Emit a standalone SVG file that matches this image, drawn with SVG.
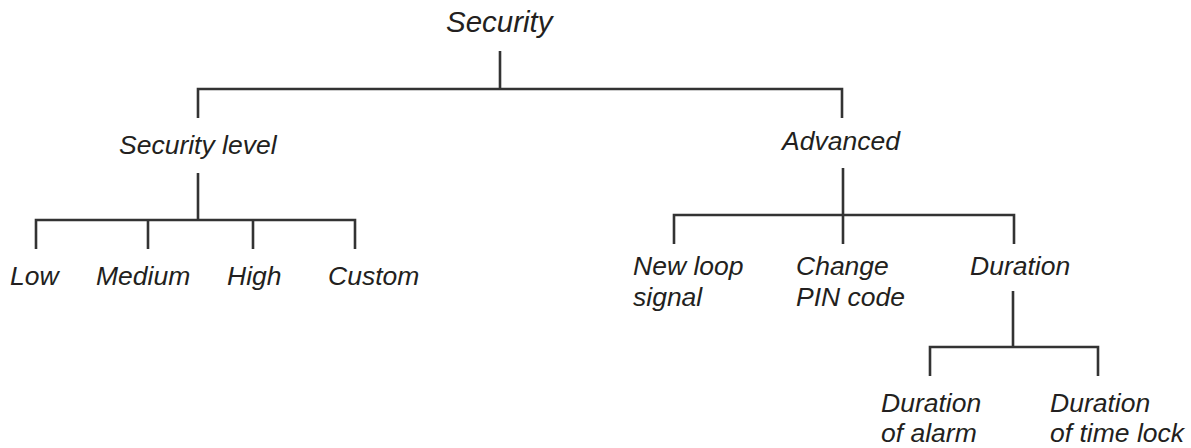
<svg xmlns="http://www.w3.org/2000/svg" width="1191" height="448" viewBox="0 0 1191 448">
<style>
text{font-family:"Liberation Sans",Arial,sans-serif;font-style:italic;font-size:26.5px;fill:#231f20}
.t{font-size:29.5px}
.c{fill:none;stroke:#333;stroke-width:2.6}
</style>
<rect width="1191" height="448" fill="#fff"/>
<g id="connectors">
<path class="c" d="M500 51V89M198 118V89H842V118"/>
<path class="c" d="M198 173V220M36 249V220H355V249M148 220V249M253 220V249"/>
<path class="c" d="M843 168V244M674 244V215H1014V244"/>
<path class="c" d="M1013 291V347M930 376V347H1098V376"/>
</g>
<g id="n-security"><text class="t" x="446" y="32">Security</text></g>
<g id="n-level"><text x="119" y="154">Security level</text></g>
<g id="n-advanced"><text x="782" y="150">Advanced</text></g>
<g id="n-low"><text x="10" y="285">Low</text></g>
<g id="n-medium"><text x="96" y="285">Medium</text></g>
<g id="n-high"><text x="227" y="285">High</text></g>
<g id="n-custom"><text x="328" y="285">Custom</text></g>
<g id="n-newloop"><text x="633" y="275">New loop</text><text x="633" y="306">signal</text></g>
<g id="n-pin"><text x="796" y="275">Change</text><text x="796" y="306">PIN code</text></g>
<g id="n-duration"><text x="970" y="275">Duration</text></g>
<g id="n-alarm"><text x="881" y="412">Duration</text><text x="881" y="442">of alarm</text></g>
<g id="n-timelock"><text x="1050" y="412">Duration</text><text x="1050" y="442">of time lock</text></g>
</svg>
